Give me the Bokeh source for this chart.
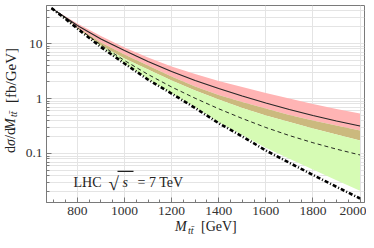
import math
from bokeh.plotting import figure
from bokeh.layouts import row, column
from bokeh.models import (FixedTicker, Label, BoxAnnotation, Range1d, Div)
from bokeh.embed import file_html
from bokeh.resources import INLINE

# ---- data ----
mtt = [690, 750, 800, 900, 1000, 1100, 1200, 1300, 1400, 1500, 1600, 1700, 1800, 1900, 2000]
# red band (upper prediction) with solid central line
red_central = [44.0, 29.7, 21.2, 12.1, 7.46, 4.71, 3.10, 2.12, 1.52, 1.11, 0.828, 0.631, 0.491, 0.390, 0.316]
red_hi = [44.0, 31.0, 23.1, 13.7, 8.46, 5.57, 3.82, 2.79, 2.08, 1.62, 1.26, 1.0, 0.794, 0.644, 0.534]
red_lo = [44.0, 28.5, 18.7, 9.19, 5.34, 3.37, 2.12, 1.40, 0.959, 0.672, 0.491, 0.374, 0.285, 0.222, 0.172]
# green band with dashed central line
green_central = [44.0, 29.1, 19.5, 9.39, 4.91, 2.74, 1.62, 1.01, 0.650, 0.433, 0.297, 0.212, 0.157, 0.120, 0.094]
green_hi = [44.0, 29.1, 19.5, 10.4, 6.31, 3.98, 2.51, 1.65, 1.16, 0.864, 0.658, 0.501, 0.398, 0.323, 0.262]
green_lo = [44.0, 28.0, 18.9, 8.7, 4.38, 2.24, 1.25, 0.69, 0.37, 0.218, 0.127, 0.080, 0.051, 0.0327, 0.021]
# thick dot-dashed curve
lo_curve = [44.0, 27.9, 18.7, 8.63, 4.33, 2.21, 1.23, 0.672, 0.356, 0.204, 0.1135, 0.0678, 0.0407, 0.0248, 0.0152]

x_ticks = [800, 1000, 1200, 1400, 1600, 1800, 2000]
x_minor = [700, 750, 850, 900, 950, 1050, 1100, 1150, 1250, 1300, 1350, 1450, 1500, 1550,
           1650, 1700, 1750, 1850, 1900, 1950]
y_ticks = [0.1, 1, 10]
y_tick_labels = {0.1: "0.1", 1: "1", 10: "10"}
y_minor = [0.02, 0.03, 0.04, 0.05, 0.06, 0.07, 0.08, 0.09,
           0.2, 0.3, 0.4, 0.5, 0.6, 0.7, 0.8, 0.9,
           2, 3, 4, 5, 6, 7, 8, 9, 20, 30, 40]

XMIN, XMAX = 669, 2019
YMIN, YMAX = 0.01285, 49.1

PINK = "#ffb4b4"
OLIVE = "#cbb97e"
GREEN = "#d6fbb4"
FRAME = "#7a7a7a"
GRID = "#e4e4e4"
SERIF = "Liberation Serif"

# page-pixel -> data helpers for annotation placement
FL, FR, FT, FB = 46, 364, 5, 202
def dx(px):
    return XMIN + (px - FL) / (FR - FL) * (XMAX - XMIN)
def dy(py):
    lt, lb = math.log10(YMAX), math.log10(YMIN)
    return 10 ** (lt - (py - FT) / (FB - FT) * (lt - lb))

YDIV_W = 20
P_H = 224
p = figure(width=366 - YDIV_W, height=P_H, x_range=Range1d(XMIN, XMAX), y_range=Range1d(YMIN, YMAX),
           y_axis_type="log", output_backend="svg", toolbar_location=None,
           min_border_left=FL - YDIV_W, min_border_right=2, min_border_top=5, min_border_bottom=22)
p.outline_line_color = FRAME
p.background_fill_color = "white"

xt = FixedTicker(ticks=x_ticks, minor_ticks=x_minor)
yt = FixedTicker(ticks=y_ticks, minor_ticks=y_minor)
p.xaxis.ticker = xt
p.yaxis.ticker = yt
p.yaxis.major_label_overrides = y_tick_labels

for ax in (p.xaxis[0], p.yaxis[0]):
    ax.major_tick_in = 5
    ax.major_tick_out = 0
    ax.minor_tick_in = 3
    ax.minor_tick_out = 0
    ax.major_tick_line_color = FRAME
    ax.minor_tick_line_color = FRAME
    ax.axis_line_color = FRAME
    ax.major_label_text_font = SERIF
    ax.major_label_text_font_size = "13.5px"
    ax.major_label_text_color = "#333333"
p.xaxis.major_label_standoff = 4
p.yaxis.major_label_standoff = 4

p.xgrid.grid_line_color = GRID
p.ygrid.grid_line_color = GRID
p.ygrid.minor_grid_line_color = GRID

# bands
p.varea(x=mtt, y1=green_hi, y2=red_hi, fill_color=PINK)
p.varea(x=mtt, y1=red_lo, y2=green_hi, fill_color=OLIVE)
p.varea(x=mtt, y1=green_lo, y2=red_lo, fill_color=GREEN)

# curves
p.line(mtt, red_central, line_color="#262626", line_width=1.1)
p.line(mtt, green_central, line_color="#111111", line_width=0.9, line_dash="4 3")
p.line(mtt, lo_curve, line_color="black", line_width=2.6, line_dash="4 2 1 2")

def lab(text, px, py, size="14px", style="normal"):
    p.add_layout(Label(x=dx(px), y=dy(py), text=text, text_font=SERIF, text_font_size=size,
                       text_font_style=style, text_color="#222222",
                       text_align="left", text_baseline="alphabetic"))

# in-plot label: LHC sqrt(s) = 7 TeV
lab("LHC", 73, 182)
lab("\u221a", 108, 183, size="19px")
lab("s", 122, 182, style="italic")
p.add_layout(BoxAnnotation(left=dx(117), right=dx(133), top=dy(170.3), bottom=dy(171.4),
                           fill_color="#222222", fill_alpha=1.0, line_color=None))
lab("= 7 TeV", 137, 182)

BASE = "position:absolute; font-family:'Liberation Serif',serif; line-height:16px; color:#222; white-space:nowrap;"
OFF = 4  # vertical offset of Div content observed in the render

def rot(html, start_y, left=3, size=14):
    # rotated piece reading upward, starting at page y=start_y
    return (f"<span style=\"{BASE} font-size:{size}px; left:{left}px; top:{start_y - OFF}px; "
            f"transform-origin:0 0; transform:rotate(-90deg);\">{html}</span>")

ylabel_html = (
    f"<div style=\"position:relative; width:{YDIV_W}px; height:{P_H}px;\">"
    + rot("d", 157)
    + rot("<i>&sigma;</i>", 150)
    + rot("/d", 142.5)
    + rot("<i>M</i>", 133.5)
    + rot("<i>tt&#772;</i>", 121, left=6, size=10)
    + rot("[fb/GeV]", 107, size=15)
    + "</div>"
)
ydiv = Div(text=ylabel_html, width=YDIV_W, height=P_H, margin=0)

def hor(html, x, top, size=14):
    return f"<span style=\"{BASE} font-size:{size}px; left:{x}px; top:{top - OFF}px;\">{html}</span>"

xlabel_html = (
    "<div style=\"position:relative; width:366px; height:24px;\">"
    + hor("<i>M</i>", 175, -1)
    + hor("<i>tt&#772;</i>", 188, 3, size=10)
    + hor("[GeV]", 201, -1)
    + "</div>"
)
xdiv = Div(text=xlabel_html, width=366, height=24, margin=0)

layout = column(row(ydiv, p, spacing=0), xdiv, spacing=0)
open("out.html", "w").write(file_html(layout, INLINE))
